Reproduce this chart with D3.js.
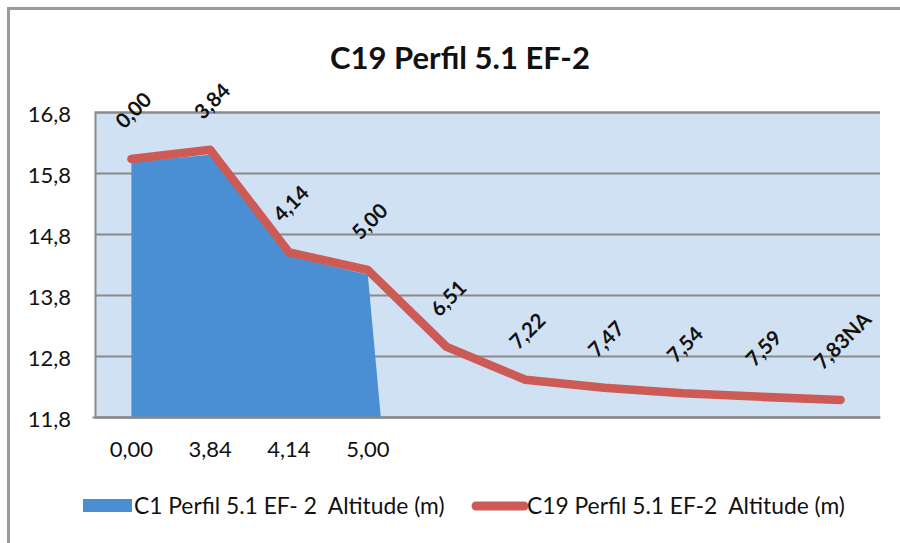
<!DOCTYPE html>
<html lang="pt">
<head>
    <meta charset="UTF-8">
    <title>C19 Perfil 5.1 EF-2</title>
    <script src="https://cdn.jsdelivr.net/npm/d3@7"></script>
    <style>
        body { margin: 0; background: #fff; }
        text { font-family: Lato, "Open Sans", sans-serif; fill: #111; }
    </style>
</head>
<body>
<script type="text/javascript">
    // distancias (rotulos do eixo x / rotulos dos pontos)
    var categories = ['0,00', '3,84', '4,14', '5,00', '6,51', '7,22', '7,47', '7,54', '7,59', '7,83NA'];
    var axisCategories = ['0,00', '3,84', '4,14', '5,00'];
    // C1: area (em branco a partir do 5o ponto, o Excel le como zero)
    var c1Altitude = [15.98, 16.1, 14.44, 14.13, 0, null, null, null, null, null];
    // C19: linha
    var c19Altitude = [16.03, 16.18, 14.5, 14.21, 12.95, 12.41, 12.28, 12.19, 12.13, 12.08];
    var yTicks = [11.8, 12.8, 13.8, 14.8, 15.8, 16.8];
    var seriesNames = ['C1 Perfil 5.1 EF- 2  Altitude (m)', 'C19 Perfil 5.1 EF-2  Altitude (m)'];

    var width = 900;
    var height = 543;
    var plot = {left: 95, right: 880, top: 112, bottom: 417};

    var svg = d3.select('body').append('svg')
            .attr('width', width)
            .attr('height', height);

    // moldura
    svg.append('path')
            .attr('d', 'M8.5,' + height + 'V8.5H' + width)
            .attr('fill', 'none')
            .attr('stroke', '#9a9a9a')
            .attr('stroke-width', 3);

    svg.append('text')
            .attr('x', 460)
            .attr('y', 69)
            .attr('text-anchor', 'middle')
            .attr('font-size', '31px')
            .attr('font-weight', 'bold')
            .text('C19 Perfil 5.1 EF-2');

    var x = d3.scaleBand()
            .domain(d3.range(categories.length))
            .range([plot.left - 3, plot.right]);
    var cx = function (i) { return x(i) + x.bandwidth() / 2; };
    var y = d3.scaleLinear()
            .domain([11.8, 16.8])
            .range([plot.bottom, plot.top]);

    svg.append('rect')
            .attr('x', plot.left)
            .attr('y', plot.top)
            .attr('width', plot.right - plot.left)
            .attr('height', plot.bottom - plot.top)
            .attr('fill', '#d0e1f3');

    svg.append('clipPath').attr('id', 'clip')
            .append('rect')
            .attr('x', plot.left)
            .attr('y', plot.top)
            .attr('width', plot.right - plot.left)
            .attr('height', plot.bottom - plot.top);

    // linhas de grade + eixo y
    var yAxis = svg.append('g')
            .attr('transform', 'translate(' + plot.left + ',0)')
            .call(d3.axisLeft(y).tickValues(yTicks).tickSize(-(plot.right - plot.left))
                    .tickPadding(24)
                    .tickFormat(function (d) { return d3.format('.1f')(d).replace('.', ','); }));
    yAxis.select('.domain').attr('stroke', '#8a8a8a').attr('stroke-width', 2);
    yAxis.selectAll('.tick line').attr('stroke', '#8a8a8a').attr('stroke-width', 2);
    yAxis.selectAll('.tick text')
            .attr('font-size', '22px')
            .attr('dy', '0.42em')
            .attr('fill', '#111')
            .style('font-family', 'Lato, sans-serif');

    // area C1
    var area = d3.area()
            .defined(function (d) { return d !== null; })
            .x(function (d, i) { return cx(i); })
            .y0(plot.bottom)
            .y1(function (d) { return y(d); });
    svg.append('path')
            .datum(c1Altitude)
            .attr('clip-path', 'url(#clip)')
            .attr('d', area)
            .attr('fill', '#4a8fd4');

    // linha C19
    var line = d3.line()
            .x(function (d, i) { return cx(i); })
            .y(function (d) { return y(d); });
    svg.append('path')
            .datum(c19Altitude)
            .attr('d', line)
            .attr('fill', 'none')
            .attr('stroke', '#cd5b55')
            .attr('stroke-width', 8.5)
            .attr('stroke-linecap', 'round')
            .attr('stroke-linejoin', 'round');

    // rotulos dos pontos (rodados 45 graus)
    var labels = svg.selectAll('text.point-label')
            .data(c19Altitude)
            .enter()
            .append('text')
            .attr('class', 'point-label')
            .attr('text-anchor', 'middle')
            .attr('dy', '0.35em')
            .attr('font-size', '20.5px')
            .attr('font-weight', 'bold')
            .text(function (d, i) { return categories[i]; });
    labels.attr('transform', function (d, i) {
        var len = this.getComputedTextLength();
        var off = 29 + (len + 15) / (2 * Math.SQRT2);
        return 'translate(' + (cx(i) + 2) + ',' + (y(d) - off) + ') rotate(-45)';
    });

    // eixo x (so as categorias da area)
    var xAxis = svg.append('g')
            .attr('transform', 'translate(0,' + plot.bottom + ')')
            .call(d3.axisBottom(x)
                    .tickValues(axisCategories.map(function (c) { return categories.indexOf(c); }))
                    .tickSize(0)
                    .tickPadding(24)
                    .tickFormat(function (i) { return categories[i]; }));
    xAxis.select('.domain').attr('stroke', '#8a8a8a').attr('stroke-width', 2);
    xAxis.selectAll('.tick text')
            .attr('font-size', '22px')
            .attr('fill', '#111')
            .style('font-family', 'Lato, sans-serif');

    // legenda
    var legend = svg.append('g').attr('transform', 'translate(0,506)');
    legend.append('rect')
            .attr('x', 83).attr('y', -7)
            .attr('width', 49).attr('height', 13)
            .attr('fill', '#4a8fd4');
    legend.append('text')
            .attr('x', 134).attr('dy', '0.35em')
            .attr('font-size', '22.8px')
            .style('white-space', 'pre')
            .text(seriesNames[0]);
    legend.append('line')
            .attr('x1', 476).attr('x2', 524)
            .attr('stroke', '#cd5b55')
            .attr('stroke-width', 9)
            .attr('stroke-linecap', 'round');
    legend.append('text')
            .attr('x', 527).attr('dy', '0.35em')
            .attr('font-size', '22.8px')
            .style('white-space', 'pre')
            .text(seriesNames[1]);
</script>
</body>
</html>
